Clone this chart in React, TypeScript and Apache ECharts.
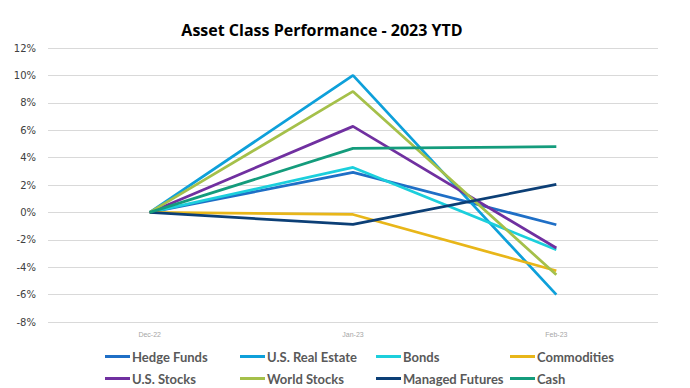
import React, { useEffect, useRef } from "react";
import * as echarts from "echarts";

const categories = ["Dec-22", "Jan-23", "Feb-23"];
const seriesNames = [
  "Hedge Funds",
  "U.S. Real Estate",
  "Bonds",
  "Commodities",
  "U.S. Stocks",
  "World Stocks",
  "Managed Futures",
  "Cash",
];
const hedgeFunds = [0, 2.92, -0.9];
const realEstate = [0, 10.0, -6.0];
const bonds = [0, 3.28, -2.72];
const commodities = [0, -0.15, -4.26];
const usStocks = [0, 6.28, -2.6];
const worldStocks = [0, 8.83, -4.55];
const managedFutures = [0, -0.88, 2.04];
const cash = [0, 4.67, 4.8];
const seriesValues = [hedgeFunds, realEstate, bonds, commodities, usStocks, worldStocks, managedFutures, cash];
const colors = ["#1f6fc6", "#0ea0da", "#1ccfdc", "#e8b619", "#7030a0", "#a5c04a", "#0c3f76", "#149c7c"];

export default function App() {
  const ref = useRef<HTMLDivElement>(null);
  useEffect(() => {
    const chart = echarts.init(ref.current!, null, { renderer: "svg" });
    const colLefts = [100, 235, 371, 505];
    const rowTops = [345, 367];
    const legends = seriesNames.map((name, i) => ({
      left: colLefts[i % 4],
      top: rowTops[Math.floor(i / 4)],
      itemWidth: 25,
      itemHeight: 3,
      icon: "rect",
      data: [name],
      textStyle: {
        fontFamily: "Lato",
        fontWeight: "bold",
        fontSize: 13,
        color: "#595959",
        padding: [0, 0, 0, -3],
      },
    }));
    chart.setOption({
      animation: false,
      color: colors,
      title: {
        text: "Asset Class Performance - 2023 YTD",
        left: 317,
        textAlign: "center",
        top: 17,
        textStyle: { fontFamily: "Open Sans", fontWeight: "bold", fontSize: 16, color: "#000" },
      },
      legend: legends,
      grid: { left: 48, right: 32, top: 48, bottom: 66 },
      xAxis: {
        type: "category",
        data: categories,
        boundaryGap: true,
        axisLine: { show: false },
        axisTick: { show: false },
        axisLabel: { fontSize: 7, color: "#a6a6a6", margin: 9, fontFamily: "Liberation Sans" },
      },
      yAxis: {
        type: "value",
        min: -8,
        max: 12,
        interval: 2,
        axisLabel: {
          formatter: "{value}%",
          fontSize: 10,
          color: "#404040",
          margin: 12,
          fontFamily: "DejaVu Sans",
        },
        splitLine: { lineStyle: { color: "#d9d9d9", width: 1 } },
        axisLine: { show: false },
        axisTick: { show: false },
      },
      series: seriesNames.map((name, i) => ({
        name,
        type: "line",
        data: seriesValues[i],
        showSymbol: false,
        symbol: "none",
        lineStyle: { width: 2.75, color: colors[i] },
        itemStyle: { color: colors[i] },
      })),
    });
    return () => chart.dispose();
  }, []);
  return <div ref={ref} style={{ width: 690, height: 388, position: "absolute", left: 0, top: 0 }} />;
}
